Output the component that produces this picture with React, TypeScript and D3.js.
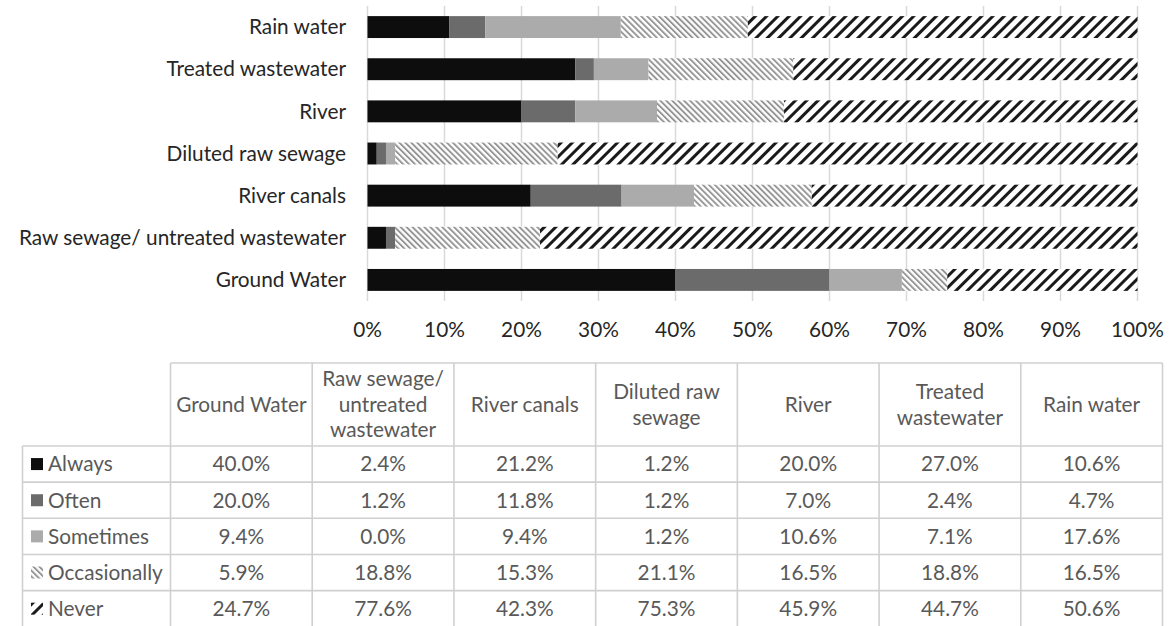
import React from "react";
import * as d3 from "d3";

const categories = [
  "Ground Water",
  "Raw sewage/ untreated wastewater",
  "River canals",
  "Diluted raw sewage",
  "River",
  "Treated wastewater",
  "Rain water",
];
const headerLines = [
  ["Ground Water"],
  ["Raw sewage/", "untreated", "wastewater"],
  ["River canals"],
  ["Diluted raw", "sewage"],
  ["River"],
  ["Treated", "wastewater"],
  ["Rain water"],
];
const seriesNames = ["Always", "Often", "Sometimes", "Occasionally", "Never"];
const always = [40.0, 2.4, 21.2, 1.2, 20.0, 27.0, 10.6];
const often = [20.0, 1.2, 11.8, 1.2, 7.0, 2.4, 4.7];
const sometimes = [9.4, 0.0, 9.4, 1.2, 10.6, 7.1, 17.6];
const occasionally = [5.9, 18.8, 15.3, 21.1, 16.5, 18.8, 16.5];
const never = [24.7, 77.6, 42.3, 75.3, 45.9, 44.7, 50.6];
const xTicks = [0, 10, 20, 30, 40, 50, 60, 70, 80, 90, 100];

const seriesValues = [always, often, sometimes, occasionally, never];
const fills = ["#0d0d0d", "#6b6b6b", "#ababab", "url(#occ)", "url(#nev)"];

const FONT = "Lato, 'Open Sans', sans-serif";
const FS = 20.8;

export default function App() {
  const W = 1171, H = 626;
  const x = d3.scaleLinear().domain([0, 100]).range([367.5, 1137.5]);
  const barOrder = [...categories].reverse();
  const y = d3.scaleBand<string>().domain(barOrder).range([6, 301]).paddingInner(0.48).paddingOuter(0.24);

  const rows = categories.map((c, i) => {
    const obj: any = { cat: c };
    seriesNames.forEach((s, k) => (obj[s] = seriesValues[k][i]));
    return obj;
  });
  const stack = d3.stack<any>().keys(seriesNames).offset(d3.stackOffsetExpand)(rows);

  const colX = d3.scaleBand<string>().domain(categories).range([170.5, 1162.5]);
  const tableTop = 363;
  const headerBottom = 446;
  const rowH = 36.15;
  const legendLeft = 22.5;

  const grid = "#d9d9d9";
  const tcol = "#595959";

  return (
    <svg width={W} height={H} style={{ position: "absolute", left: 0, top: 0, background: "#fff" }}>
      <defs>
        <pattern id="occ" patternUnits="userSpaceOnUse" width="4.2" height="4.2" patternTransform="rotate(-45)">
          <rect width="4.2" height="4.2" fill="#fff" />
          <rect width="1.9" height="4.2" fill="#959595" />
        </pattern>
        <pattern id="nev" patternUnits="userSpaceOnUse" width="8" height="8" patternTransform="rotate(45)">
          <rect width="8" height="8" fill="#fff" />
          <rect width="3" height="8" fill="#1a1a1a" />
        </pattern>
      </defs>
      {xTicks.map((t) => (
        <line key={t} x1={x(t)} x2={x(t)} y1={6} y2={301} stroke={grid} strokeWidth={1.5} />
      ))}
      {stack.map((layer, k) => (
        <g key={layer.key} fill={fills[k]}>
          {layer.map((d, i) => (
            <rect
              key={i}
              x={x(d[0] * 100)}
              width={Math.max(0, x(d[1] * 100) - x(d[0] * 100))}
              y={y(d.data.cat)}
              height={y.bandwidth()}
            />
          ))}
        </g>
      ))}
      {barOrder.map((c) => (
        <text key={c} x={346} y={(y(c) as number) + y.bandwidth() / 2} dy="0.35em" textAnchor="end"
          fontFamily={FONT} fontSize={FS} fill="#262626">{c}</text>
      ))}
      {xTicks.map((t) => (
        <text key={t} x={x(t)} y={330} dy="0.35em" textAnchor="middle" fontFamily={FONT} fontSize={FS} fill="#262626">
          {t + "%"}
        </text>
      ))}
      <g stroke="#d0d0d0" strokeWidth={1.6} fill="none">
        <line x1={170.5} x2={1162.5} y1={tableTop} y2={tableTop} />
        {d3.range(seriesNames.length + 1).map((r) => (
          <line key={r} x1={legendLeft} x2={1162.5} y1={headerBottom + r * rowH} y2={headerBottom + r * rowH} />
        ))}
        <line x1={legendLeft} x2={legendLeft} y1={headerBottom} y2={H} />
        {categories.map((c) => (
          <line key={c} x1={colX(c)} x2={colX(c)} y1={tableTop} y2={H} />
        ))}
        <line x1={1162.5} x2={1162.5} y1={tableTop} y2={H} />
      </g>
      {categories.map((c, i) => {
        const lines = headerLines[i];
        const lh = 25.5;
        const cy = (tableTop + headerBottom) / 2;
        return (
          <text key={c} textAnchor="middle" fontFamily={FONT} fontSize={FS} fill={tcol}>
            {lines.map((l, j) => (
              <tspan key={j} x={(colX(c) as number) + colX.bandwidth() / 2}
                y={cy + (j - (lines.length - 1) / 2) * lh} dy="0.35em">{l}</tspan>
            ))}
          </text>
        );
      })}
      {seriesNames.map((s, r) => {
        const cy = headerBottom + r * rowH + rowH / 2;
        return (
          <g key={s}>
            <rect x={31} y={cy - 6} width={12} height={12} fill={fills[r]} />
            <text x={48} y={cy} dy="0.35em" fontFamily={FONT} fontSize={FS} fill={tcol}>{s}</text>
            {categories.map((c, i) => (
              <text key={c} x={(colX(c) as number) + colX.bandwidth() / 2} y={cy} dy="0.35em" textAnchor="middle"
                fontFamily={FONT} fontSize={FS} fill={tcol}>
                {seriesValues[r][i].toFixed(1) + "%"}
              </text>
            ))}
          </g>
        );
      })}
    </svg>
  );
}
